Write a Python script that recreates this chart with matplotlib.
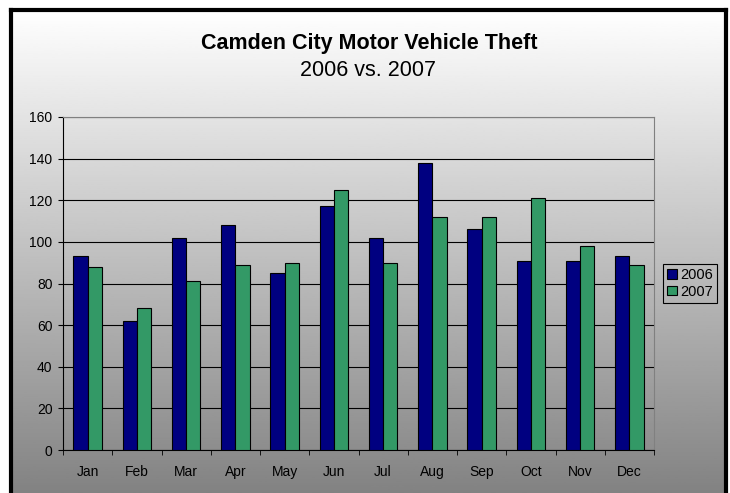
import numpy as np
import matplotlib
matplotlib.use("Agg")
import matplotlib.pyplot as plt

plt.rcParams['font.family'] = ['Liberation Sans', 'DejaVu Sans']

months = ["Jan", "Feb", "Mar", "Apr", "May", "Jun",
          "Jul", "Aug", "Sep", "Oct", "Nov", "Dec"]
thefts_2006 = [93, 62, 102, 108, 85, 117, 102, 138, 106, 91, 91, 93]
thefts_2007 = [88, 68, 81, 89, 90, 125, 90, 112, 112, 121, 98, 89]
y_ticks = [0, 20, 40, 60, 80, 100, 120, 140, 160]

W, H = 730, 493
fig = plt.figure(figsize=(W / 100, H / 100), dpi=100, facecolor='white')

# фон с градиентом и чёрной рамкой
bg = fig.add_axes([11 / W, -0.02, (726 - 11) / W, (H - 10) / H + 0.02], zorder=0)
grad = np.linspace(1.0, 0.5, 256).reshape(-1, 1)
bg.imshow(grad, aspect='auto', cmap='gray', vmin=0, vmax=1, extent=[0, 1, 0, 1])
bg.set_xticks([])
bg.set_yticks([])
for side in ['left', 'right', 'top']:
    bg.spines[side].set_linewidth(3)
    bg.spines[side].set_color('black')
bg.spines['bottom'].set_visible(False)

ax = fig.add_axes([63 / W, (H - 450) / H, (654 - 63) / W, (450 - 117) / H], zorder=1)
ax.patch.set_alpha(0)

x = np.arange(len(months))
bw = 0.29
ax.bar(x - bw / 2, thefts_2006, bw, color='#000080', edgecolor='black', linewidth=0.8,
       label='2006', zorder=3)
ax.bar(x + bw / 2, thefts_2007, bw, color='#339966', edgecolor='black', linewidth=0.8,
       label='2007', zorder=3)

ax.set_xlim(-0.5, len(months) - 0.5)
ax.set_ylim(0, 160)
ax.set_yticks(y_ticks)
ax.set_yticklabels([str(v) for v in y_ticks], fontsize=10)
ax.yaxis.grid(True, color='black', linewidth=0.8, zorder=1)
ax.set_axisbelow(True)

ax.set_xticks(x)
ax.set_xticklabels(months, fontsize=10)
ax.tick_params(axis='x', length=0, pad=11)
ax.set_xticks(np.arange(-0.5, len(months) + 0.5, 1), minor=True)
ax.tick_params(axis='x', which='minor', length=3.6, color='black', direction='out')
ax.tick_params(axis='y', length=3.6, color='black', direction='out', pad=4)

for side in ['top', 'right']:
    ax.spines[side].set_color('#808080')
    ax.spines[side].set_linewidth(0.8)
ax.spines['left'].set_color('black')
ax.spines['bottom'].set_color('black')

leg = ax.legend(loc='center left', bbox_to_anchor=(663 / W, 1 - 283.5 / H),
                bbox_transform=fig.transFigure, fontsize=10.5, frameon=True,
                fancybox=False, edgecolor='black', framealpha=1,
                handlelength=0.65, handleheight=0.65, handletextpad=0.2,
                borderpad=0.3, labelspacing=0.15, borderaxespad=0)
leg.get_frame().set_facecolor('none')
leg.get_frame().set_linewidth(0.8)

fig.text(369 / W, 1 - 43 / H, "Camden City Motor Vehicle Theft", ha='center', va='center',
         fontsize=15.5, fontweight='bold')
fig.text(368 / W, 1 - 71 / H, "2006 vs. 2007", ha='center', va='center', fontsize=15.5)

fig.savefig("out.png", dpi=100, facecolor='white')
